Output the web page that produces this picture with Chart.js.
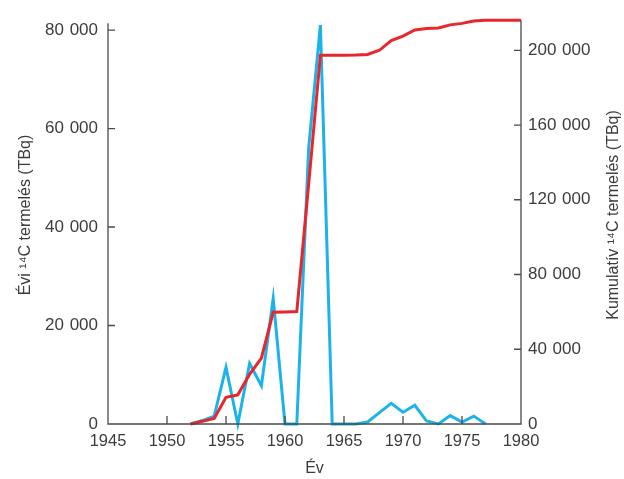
<!DOCTYPE html>
<html>
<head>
<meta charset="utf-8">
<style>
  html, body { margin: 0; padding: 0; background: #fff; }
  #wrap { width: 624px; height: 479px; position: relative; }
</style>
<script src="https://cdn.jsdelivr.net/npm/chart.js@4/dist/chart.umd.min.js"></script>
</head>
<body>
<div id="wrap"><canvas id="c" width="624" height="479"></canvas></div>
<script>
// Annual 14C production (TBq), left axis
const annualYears = [1952, 1953, 1954, 1955, 1956, 1957, 1958, 1959, 1960, 1961, 1962, 1963, 1964,
                     1965, 1966, 1967, 1968, 1969, 1970, 1971, 1972, 1973, 1974, 1975, 1976, 1977];
const annualValues = [0, 700, 1600, 11500, 0, 12300, 7800, 25500, 0, 0, 55900, 81000, 0,
                      0, 0, 400, 2300, 4200, 2400, 3800, 600, 0, 1700, 400, 1600, 0];

// Cumulative 14C production (TBq), right axis
const cumulativeYears = [1952, 1953, 1954, 1955, 1956, 1957, 1958, 1959, 1960, 1961, 1962, 1963, 1964,
                         1965, 1966, 1967, 1968, 1969, 1970, 1971, 1972, 1973, 1974, 1975, 1976, 1977,
                         1978, 1979, 1980];
const cumulativeValues = [0, 1500, 3000, 14300, 15600, 26600, 35300, 59800, 60000, 60200, 128000, 197400, 197400,
                          197400, 197500, 197800, 200000, 205200, 207600, 210900, 211700, 211900, 213600, 214400, 215700, 216100,
                          216100, 216100, 216100];

const xTicks = [1945, 1950, 1955, 1960, 1965, 1970, 1975, 1980];
const leftTicks = [0, 20000, 40000, 60000, 80000];
const rightTicks = [0, 40000, 80000, 120000, 160000, 200000];

const xTitle = 'Év';
const leftTitle = 'Évi ¹⁴C termelés (TBq)';
const rightTitle = 'Kumulatív ¹⁴C termelés (TBq)';

const FONT = '"Liberation Sans", Arial, sans-serif';
const TEXT = '#3c3c3c';
const AXIS = '#4a4a4a';

// thousands grouped with a narrow space
function fmt(v) {
  return String(v).replace(/\B(?=(\d{3})+(?!\d))/g, '\u2004');
}

function pts(xs, ys) { return xs.map((x, i) => ({ x: x, y: ys[i] })); }

// Axis lines, inward tick marks and rotated titles
const axesDecor = {
  id: 'axesDecor',
  afterDraw(chart) {
    const ctx = chart.ctx;
    const a = chart.chartArea;
    const x = chart.scales.x, yl = chart.scales.y, yr = chart.scales.y2;
    ctx.save();
    ctx.strokeStyle = AXIS;
    ctx.lineWidth = 1.3;
    ctx.beginPath();
    // left spine stops slightly short of the top
    ctx.moveTo(a.left, yl.getPixelForValue(81400));
    ctx.lineTo(a.left, a.bottom);
    ctx.lineTo(a.right, a.bottom);
    ctx.lineTo(a.right, a.top);
    xTicks.forEach(v => { const p = x.getPixelForValue(v); ctx.moveTo(p, a.bottom); ctx.lineTo(p, a.bottom - 8); });
    leftTicks.forEach(v => { const p = yl.getPixelForValue(v); ctx.moveTo(a.left, p); ctx.lineTo(a.left + 7, p); });
    rightTicks.forEach(v => { const p = yr.getPixelForValue(v); ctx.moveTo(a.right, p); ctx.lineTo(a.right - 7, p); });
    ctx.stroke();

    ctx.fillStyle = TEXT;
    ctx.font = '16px ' + FONT;
    ctx.textAlign = 'center';
    ctx.textBaseline = 'middle';
    ctx.fillText(xTitle, (a.left + a.right) / 2, 469);

    ctx.save();
    ctx.translate(26, 215);
    ctx.rotate(-Math.PI / 2);
    ctx.fillText(leftTitle, 0, 0);
    ctx.restore();

    ctx.save();
    ctx.translate(614, 215);
    ctx.rotate(-Math.PI / 2);
    ctx.fillText(rightTitle, 0, 0);
    ctx.restore();
    ctx.restore();
  }
};

new Chart(document.getElementById('c'), {
  type: 'line',
  data: {
    datasets: [
      {
        label: 'Kumulatív',
        data: pts(cumulativeYears, cumulativeValues),
        yAxisID: 'y2',
        borderColor: '#e8262b',
        borderWidth: 3,
        pointRadius: 0,
        tension: 0,
        clip: false,
        order: 0
      },
      {
        label: 'Évi',
        data: pts(annualYears, annualValues),
        yAxisID: 'y',
        borderColor: '#1cb3ea',
        borderWidth: 3,
        pointRadius: 0,
        tension: 0,
        clip: false,
        order: 1
      }
    ]
  },
  options: {
    responsive: false,
    animation: false,
    events: [],
    layout: { padding: { top: 12, left: 0, right: 0, bottom: 0 } },
    plugins: { legend: { display: false }, tooltip: { enabled: false } },
    scales: {
      x: {
        type: 'linear',
        min: 1945,
        max: 1980,
        afterFit(s) { s.height = 55; },
        afterBuildTicks(s) { s.ticks = xTicks.map(v => ({ value: v })); },
        grid: { display: false, drawTicks: false },
        border: { display: false },
        ticks: {
          padding: 8,
          color: TEXT,
          font: { family: FONT, size: 16.5 },
          maxRotation: 0,
          autoSkip: false,
          callback: v => String(v)
        }
      },
      y: {
        position: 'left',
        min: 0,
        max: 82000,
        afterFit(s) { s.width = 108; },
        afterBuildTicks(s) { s.ticks = leftTicks.map(v => ({ value: v })); },
        grid: { display: false, drawTicks: false },
        border: { display: false },
        ticks: {
          padding: 10,
          color: TEXT,
          font: { family: FONT, size: 17 },
          callback: v => fmt(v)
        }
      },
      y2: {
        position: 'right',
        min: 0,
        max: 216100,
        afterFit(s) { s.width = 103; },
        afterBuildTicks(s) { s.ticks = rightTicks.map(v => ({ value: v })); },
        grid: { display: false, drawTicks: false },
        border: { display: false },
        ticks: {
          padding: 7,
          color: TEXT,
          font: { family: FONT, size: 17 },
          callback: v => fmt(v)
        }
      }
    }
  },
  plugins: [axesDecor]
});
</script>
</body>
</html>
